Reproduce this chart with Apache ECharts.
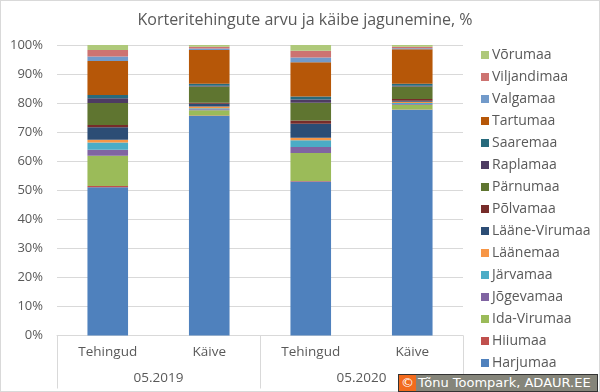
<!DOCTYPE html>
<html>
<head>
<meta charset="utf-8">
<script src="https://cdn.jsdelivr.net/npm/echarts@6/dist/echarts.min.js"></script>
<style>
html,body{margin:0;padding:0;background:#fff;}
#wrap{position:relative;width:600px;height:392px;}
#chart{width:600px;height:392px;}
#border{position:absolute;left:0;top:0;width:598px;height:390px;border:1px solid #d9d9d9;pointer-events:none;}
#wm{position:absolute;left:398px;top:374px;height:16px;width:198px;background:#85857a;border:1px solid #333;font-family:"DejaVu Sans",sans-serif;font-size:13px;color:#fff;line-height:16px;white-space:nowrap;overflow:hidden;}
#wm span.c{display:inline-block;background:#f26b1d;width:17px;text-align:center;margin-right:2px;}
</style>
</head>
<body>
<div id="wrap"><div id="chart"></div><div id="border"></div>
<div id="wm"><span class="c">©</span>Tõnu Toompark, ADAUR.EE</div></div>
<script>
const categories = ['Tehingud', 'Käive', 'Tehingud', 'Käive'];
const groups = ['05.2019', '05.2020'];
const yTicks = [0, 10, 20, 30, 40, 50, 60, 70, 80, 90, 100];

const Harjumaa      = [51.0, 75.6, 53.0, 77.7];
const Hiiumaa       = [0.5, 0.1, 0.2, 0.1];
const IdaVirumaa    = [10.4, 1.8, 9.6, 1.6];
const Jogevamaa     = [2.0, 0.4, 2.1, 0.3];
const Jarvamaa      = [2.5, 0.3, 2.3, 0.3];
const Laanemaa      = [1.0, 0.6, 0.9, 0.5];
const LaaneVirumaa  = [4.3, 1.0, 4.8, 0.3];
const Polvamaa      = [0.8, 0.3, 1.1, 0.6];
const Parnumaa      = [7.5, 5.6, 6.1, 4.3];
const Raplamaa      = [1.7, 0.3, 1.1, 0.3];
const Saaremaa      = [1.1, 0.7, 1.1, 0.7];
const Tartumaa      = [11.7, 11.6, 11.8, 11.8];
const Valgamaa      = [1.5, 0.5, 1.6, 0.4];
const Viljandimaa   = [2.3, 0.6, 2.3, 0.5];
const Vorumaa       = [1.7, 0.6, 2.0, 0.6];

const seriesDefs = [
  ['Harjumaa', Harjumaa, '#4F81BD'],
  ['Hiiumaa', Hiiumaa, '#C0504D'],
  ['Ida-Virumaa', IdaVirumaa, '#9BBB59'],
  ['Jõgevamaa', Jogevamaa, '#8064A2'],
  ['Järvamaa', Jarvamaa, '#4BACC6'],
  ['Läänemaa', Laanemaa, '#F79646'],
  ['Lääne-Virumaa', LaaneVirumaa, '#2C4D75'],
  ['Põlvamaa', Polvamaa, '#772C2A'],
  ['Pärnumaa', Parnumaa, '#5F7530'],
  ['Raplamaa', Raplamaa, '#4D3B62'],
  ['Saaremaa', Saaremaa, '#276A7C'],
  ['Tartumaa', Tartumaa, '#B65708'],
  ['Valgamaa', Valgamaa, '#729ACA'],
  ['Viljandimaa', Viljandimaa, '#CD7371'],
  ['Võrumaa', Vorumaa, '#AFC97A']
];

const font = '"Open Sans", sans-serif';
const txt = '#595959';

const chart = echarts.init(document.getElementById('chart'));
chart.setOption({
  animation: false,
  title: {
    text: 'Korteritehingute arvu ja käibe jagunemine, %',
    left: 300, textAlign: 'center', top: 7,
    textStyle: { fontFamily: font, fontSize: 16, fontWeight: 'normal', color: txt }
  },
  legend: {
    orient: 'vertical', left: 476, top: 43,
    itemWidth: 8, itemHeight: 8, itemGap: 8,
    icon: 'rect',
    data: seriesDefs.map(d => d[0]).reverse(),
    textStyle: { fontFamily: font, fontSize: 14, color: txt, lineHeight: 14, padding: [0, 0, 0, -2] }
  },
  grid: { left: 57, right: 137, top: 45, bottom: 56.5, containLabel: false },
  xAxis: [
    {
      type: 'category', data: categories, position: 'bottom',
      axisLine: { lineStyle: { color: '#d9d9d9' } },
      axisTick: { show: false },
      axisLabel: { margin: 10, fontFamily: font, fontSize: 13.5, color: txt }
    },
    {
      type: 'category', data: groups, position: 'bottom',
      axisLine: { show: false },
      axisTick: { show: true, length: 53, lineStyle: { color: '#d9d9d9' } },
      axisLabel: { margin: 36, fontFamily: font, fontSize: 13.5, color: txt }
    }
  ],
  yAxis: {
    type: 'value', min: yTicks[0], max: yTicks[yTicks.length - 1], interval: 10,
    axisLine: { show: false }, axisTick: { show: false },
    splitLine: { lineStyle: { color: '#d9d9d9' } },
    axisLabel: { formatter: v => v + '%', margin: 14, fontFamily: font, fontSize: 13, color: txt }
  },
  series: seriesDefs.map(d => ({
    name: d[0], type: 'bar', stack: 'total', xAxisIndex: 0,
    data: d[1], barWidth: '40%',
    itemStyle: { color: d[2] }
  }))
});
</script>
</body>
</html>
